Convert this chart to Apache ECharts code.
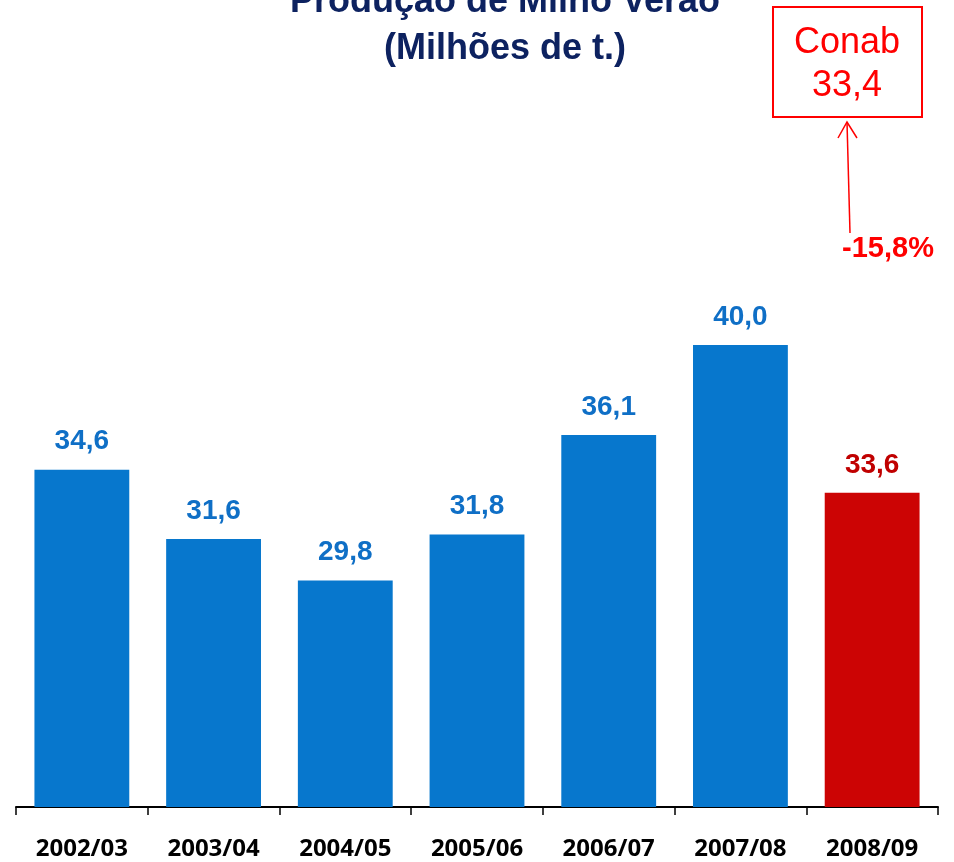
<!DOCTYPE html>
<html>
<head>
<meta charset="utf-8">
<title>Produção de Milho Verão</title>
<script src="https://cdn.jsdelivr.net/npm/echarts@6/dist/echarts.min.js"></script>
<style>
  html, body { margin: 0; padding: 0; background: #fff; }
  #chart { width: 954px; height: 862px; }
</style>
</head>
<body>
<div id="chart"></div>
<script>
// dados da safra (milhões de t.)
var safras = ['2002/03', '2003/04', '2004/05', '2005/06', '2006/07', '2007/08', '2008/09'];
var producao = [34.6, 31.6, 29.8, 31.8, 36.1, 40.0, 33.6];
var estimativa = [false, false, false, false, false, false, true];
var conabValor = '33,4';
var variacao = '-15,8%';

var azul = '#0777cd';
var vermelho = '#cc0404';

var chart = echarts.init(document.getElementById('chart'));

var dados = producao.map(function (v, i) {
  if (!estimativa[i]) return v;
  return {
    value: v,
    itemStyle: { color: vermelho },
    label: { color: '#c00000' }
  };
});

var option = {
  animation: false,
  title: [{
    text: 'Produção de Milho Verão',
    left: 505,
    top: -16,
    textAlign: 'center',
    padding: 0,
    textStyle: { fontFamily: 'Liberation Sans, Arial', fontWeight: 'bold', fontSize: 36, color: '#0d2260' }
  }, {
    text: '(Milhões de t.)',
    left: 505,
    top: 31,
    textAlign: 'center',
    padding: 0,
    textStyle: { fontFamily: 'Liberation Sans, Arial', fontWeight: 'bold', fontSize: 36, color: '#0d2260' }
  }],
  grid: { left: 16, right: 16, top: 114, bottom: 55, containLabel: false },
  xAxis: {
    type: 'category',
    data: safras,
    axisLine: { show: true, lineStyle: { color: '#000', width: 2 } },
    axisTick: { show: true, length: 8, lineStyle: { color: '#000', width: 1.5 } },
    axisLabel: {
      margin: 30,
      color: '#000',
      fontFamily: 'Open Sans',
      fontWeight: 'bold',
      fontSize: 24
    }
  },
  yAxis: {
    type: 'value',
    min: 20,
    max: 50,
    show: false,
    splitLine: { show: false }
  },
  series: [{
    type: 'bar',
    barWidth: '72%',
    data: dados,
    itemStyle: { color: azul },
    label: {
      show: true,
      position: 'top',
      distance: 14,
      color: '#0f6fc6',
      fontFamily: 'Liberation Sans, Arial',
      fontWeight: 'bold',
      fontSize: 28,
      formatter: function (p) { return p.value.toFixed(1).replace('.', ','); }
    }
  }],
  graphic: [{
    type: 'rect',
    shape: { x: 773, y: 7, width: 149, height: 110 },
    style: { fill: 'none', stroke: '#ff0000', lineWidth: 2 }
  }, {
    type: 'text',
    x: 847, y: 43,
    style: { text: 'Conab', align: 'center', verticalAlign: 'middle', fill: '#ff0000', font: '36px Liberation Sans, Arial' }
  }, {
    type: 'text',
    x: 847, y: 86,
    style: { text: conabValor, align: 'center', verticalAlign: 'middle', fill: '#ff0000', font: '36px Liberation Sans, Arial' }
  }, {
    type: 'line',
    shape: { x1: 850, y1: 233, x2: 847, y2: 122 },
    style: { stroke: '#ff0000', lineWidth: 1.5 }
  }, {
    type: 'polyline',
    shape: { points: [[838, 138], [847, 122], [857, 138]] },
    style: { stroke: '#ff0000', lineWidth: 1.5, fill: 'none' }
  }, {
    type: 'text',
    x: 888, y: 249,
    style: { text: variacao, align: 'center', verticalAlign: 'middle', fill: '#ff0000', font: 'bold 29px Liberation Sans, Arial' }
  }]
};

chart.setOption(option);
</script>
</body>
</html>
